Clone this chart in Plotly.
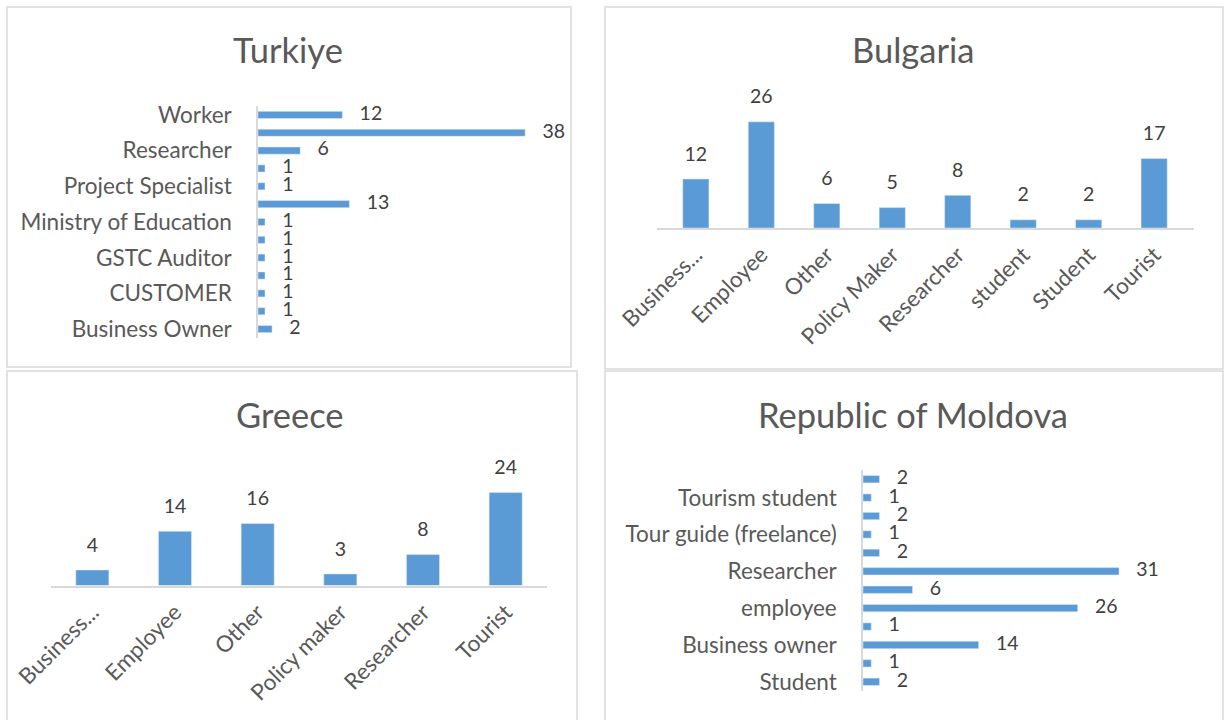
import plotly.graph_objects as go

W, H = 1225, 720

# ---------------- data ----------------
tr_roles = ["Business Owner", "Consultant", "CUSTOMER", "Employee", "GSTC Auditor",
            "Manager", "Ministry of Education", "Other", "Project Specialist",
            "Public Servant", "Researcher", "Tourist", "Worker"]
tr_counts = [2, 1, 1, 1, 1, 1, 1, 13, 1, 1, 6, 38, 12]
tr_shown = ["Business Owner", "CUSTOMER", "GSTC Auditor", "Ministry of Education",
            "Project Specialist", "Researcher", "Worker"]

bg_roles = ["Business owner", "Employee", "Other", "Policy Maker", "Researcher",
            "student", "Student", "Tourist"]
bg_counts = [12, 26, 6, 5, 8, 2, 2, 17]
bg_ticks = ["Business...", "Employee", "Other", "Policy Maker", "Researcher",
            "student", "Student", "Tourist"]

gr_roles = ["Business owner", "Employee", "Other", "Policy maker", "Researcher", "Tourist"]
gr_counts = [4, 14, 16, 3, 8, 24]
gr_ticks = ["Business...", "Employee", "Other", "Policy maker", "Researcher", "Tourist"]

md_roles = ["Student", "Academic staff", "Business owner", "Consultant", "employee",
            "Other", "Researcher", "Student (university)", "Tour guide (freelance)",
            "Tour operator", "Tourism student", "Tourist"]
md_counts = [2, 1, 14, 1, 26, 6, 31, 2, 1, 2, 1, 2]
md_shown = ["Student", "Business owner", "employee", "Researcher",
            "Tour guide (freelance)", "Tourism student"]

titles = ["Turkiye", "Bulgaria", "Greece", "Republic of Moldova"]

# ---------------- style ----------------
FONT = "Lato"
BAR = "#5B9BD5"
TXT = "#595959"
LBL = "#404040"
GRID = "#D9D9D9"
TICK_SIZE = 22.5
LBL_SIZE = 19.5
TITLE_SIZE = 34.5


def px(x):
    return x / W


def py(y):
    return 1 - y / H


fig = go.Figure()
lblfont = dict(family=FONT, size=LBL_SIZE, color=LBL)

# Turkiye (horizontal)
fig.add_trace(go.Bar(x=tr_counts, y=tr_roles, orientation="h", marker_color=BAR,
                     xaxis="x", yaxis="y", hoverinfo="skip"))
fig.add_trace(go.Scatter(x=tr_counts, y=tr_roles, mode="markers+text", text=tr_counts,
                         textposition="middle right", marker=dict(size=26, opacity=0),
                         textfont=lblfont, cliponaxis=False,
                         xaxis="x", yaxis="y", hoverinfo="skip"))

# Bulgaria (vertical)
fig.add_trace(go.Bar(x=bg_roles, y=bg_counts, marker_color=BAR,
                     xaxis="x2", yaxis="y2", hoverinfo="skip"))
fig.add_trace(go.Scatter(x=bg_roles, y=bg_counts, mode="markers+text", text=bg_counts,
                         textposition="top center", marker=dict(size=20, opacity=0),
                         textfont=lblfont, cliponaxis=False,
                         xaxis="x2", yaxis="y2", hoverinfo="skip"))

# Greece (vertical)
fig.add_trace(go.Bar(x=gr_roles, y=gr_counts, marker_color=BAR,
                     xaxis="x3", yaxis="y3", hoverinfo="skip"))
fig.add_trace(go.Scatter(x=gr_roles, y=gr_counts, mode="markers+text", text=gr_counts,
                         textposition="top center", marker=dict(size=20, opacity=0),
                         textfont=lblfont, cliponaxis=False,
                         xaxis="x3", yaxis="y3", hoverinfo="skip"))

# Moldova (horizontal)
fig.add_trace(go.Bar(x=md_counts, y=md_roles, orientation="h", marker_color=BAR,
                     xaxis="x4", yaxis="y4", hoverinfo="skip"))
fig.add_trace(go.Scatter(x=md_counts, y=md_roles, mode="markers+text", text=md_counts,
                         textposition="middle right", marker=dict(size=26, opacity=0),
                         textfont=lblfont, cliponaxis=False,
                         xaxis="x4", yaxis="y4", hoverinfo="skip"))

hidden = dict(visible=False, fixedrange=True, automargin=False)
tickfont = dict(family=FONT, size=TICK_SIZE, color=TXT)

fig.update_layout(
    width=W, height=H, autosize=False,
    margin=dict(l=0, r=0, t=0, b=0, pad=0, autoexpand=False),
    paper_bgcolor="white", plot_bgcolor="rgba(0,0,0,0)",
    showlegend=False, bargap=0.6,
    font=dict(family=FONT, color=TXT),
    # Turkiye
    xaxis=dict(domain=[px(258), px(560)], range=[0, 42.96], anchor="y", **hidden),
    yaxis=dict(domain=[py(338), py(106)], anchor="x", type="category",
               categoryorder="array", categoryarray=tr_roles,
               range=[-0.5, len(tr_roles) - 0.5],
               tickmode="array", tickvals=tr_shown, ticktext=tr_shown,
               showline=True, linecolor=GRID, linewidth=1.5, ticks="",
               showgrid=False, zeroline=False, tickfont=tickfont,
               ticklabelstandoff=20, fixedrange=True, automargin=False),
    # Bulgaria
    xaxis2=dict(domain=[px(656.5), px(1193.5)], anchor="y2", type="category",
                categoryorder="array", categoryarray=bg_roles,
                tickmode="array", tickvals=bg_roles, ticktext=bg_ticks,
                tickangle=-45, showline=True, linecolor=GRID, linewidth=1.5,
                ticks="", showgrid=False, tickfont=tickfont, ticklabelstandoff=3,
                fixedrange=True, automargin=False),
    yaxis2=dict(domain=[py(228), py(90)], range=[0, 33.8], anchor="x2", **hidden),
    # Greece
    xaxis3=dict(domain=[px(51), px(547)], anchor="y3", type="category",
                categoryorder="array", categoryarray=gr_roles,
                tickmode="array", tickvals=gr_roles, ticktext=gr_ticks,
                tickangle=-45, showline=True, linecolor=GRID, linewidth=1.5,
                ticks="", showgrid=False, tickfont=tickfont, ticklabelstandoff=3,
                fixedrange=True, automargin=False),
    yaxis3=dict(domain=[py(585.5), py(455)], range=[0, 33.7], anchor="x3", **hidden),
    # Moldova
    xaxis4=dict(domain=[px(863), px(1200)], range=[0, 40.8], anchor="y4", **hidden),
    yaxis4=dict(domain=[py(691), py(470)], anchor="x4", type="category",
                categoryorder="array", categoryarray=md_roles,
                range=[-0.5, len(md_roles) - 0.5],
                tickmode="array", tickvals=md_shown, ticktext=md_shown,
                showline=True, linecolor=GRID, linewidth=1.5, ticks="",
                showgrid=False, zeroline=False, tickfont=tickfont,
                ticklabelstandoff=20, fixedrange=True, automargin=False),
)

# panel frames
frames = [(7, 7, 571, 367), (605, 7, 1223, 369), (7, 371, 577, 722), (605, 371, 1223, 722)]
shapes = []
for x0, y0, x1, y1 in frames:
    shapes.append(dict(type="rect", xref="paper", yref="paper",
                       x0=px(x0), x1=px(x1), y0=py(y1), y1=py(y0),
                       line=dict(color=GRID, width=1.5), fillcolor="rgba(0,0,0,0)",
                       layer="below"))
fig.update_layout(shapes=shapes)

# titles
title_pos = [(288, 50), (913, 50), (290, 415), (913, 415)]
for t, (x, y) in zip(titles, title_pos):
    fig.add_annotation(text=t, x=px(x), y=py(y), xref="paper", yref="paper",
                       showarrow=False, xanchor="center", yanchor="middle",
                       font=dict(family=FONT, size=TITLE_SIZE, color=TXT))

fig.write_html("out.html",
               config={"displayModeBar": False},
               post_script="document.body.style.margin='0';document.body.style.overflow='hidden';")
